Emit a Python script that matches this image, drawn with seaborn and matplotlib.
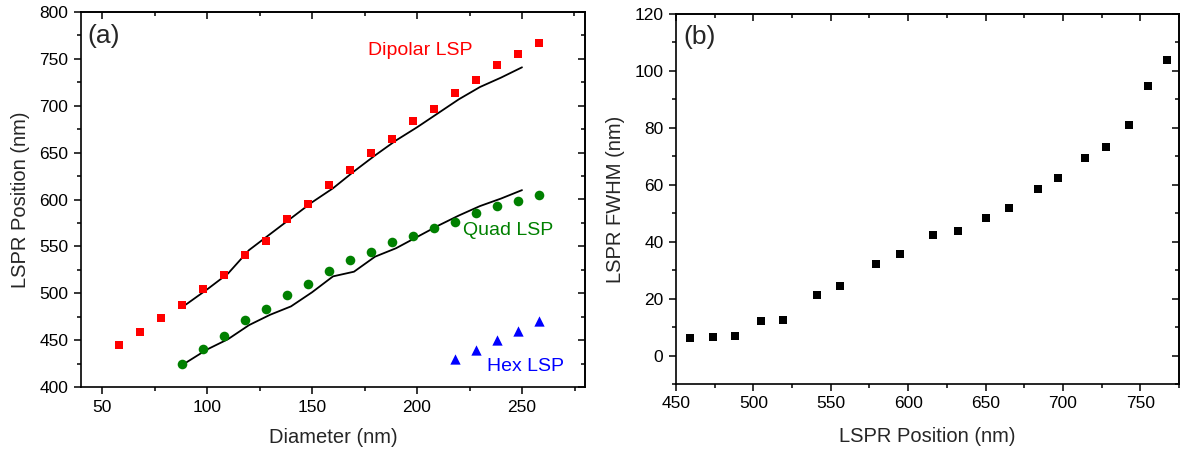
import matplotlib
matplotlib.use("Agg")
import matplotlib.pyplot as plt
import seaborn as sns
import numpy as np
import pandas as pd
from matplotlib.ticker import MultipleLocator

# ---------------- data ----------------
dip_diam = [58, 68, 78, 88, 98, 108, 118, 128, 138, 148, 158, 168, 178, 188, 198, 208, 218, 228, 238, 248, 258]
dip_pos = [445, 459, 474, 488, 505, 519, 541, 556, 579, 595, 616, 632, 650, 665, 684, 697, 714, 728, 743, 755, 767]

quad_diam = [88, 98, 108, 118, 128, 138, 148, 158, 168, 178, 188, 198, 208, 218, 228, 238, 248, 258]
quad_pos = [425, 441, 454, 471, 483, 498, 510, 524, 535, 544, 555, 561, 570, 576, 586, 593, 598, 605]

hex_diam = [218, 228, 238, 248, 258]
hex_pos = [430, 440, 450, 460, 470]

sim_diam = [90, 100, 110, 120, 130, 140, 150, 160, 170, 180, 190, 200, 210, 220, 230, 240, 250]
sim_dip = [488, 504, 521, 546, 563, 580, 597, 612, 630, 647, 663, 677, 692, 707, 720, 730, 741]
sim_quad = [426, 440, 451, 466, 477, 486, 501, 518, 523, 539, 548, 560, 572, 583, 593, 601, 610]

fwhm_pos = [459, 474, 488, 505, 519, 541, 556, 579, 595, 616, 632, 650, 665, 684, 697, 714, 728, 743, 755, 767]
fwhm_val = [6.1, 6.5, 6.9, 12.0, 12.6, 21.2, 24.4, 32.2, 35.6, 42.3, 43.9, 48.4, 51.8, 58.6, 62.4, 69.4, 73.4, 81.1, 94.8, 103.9]

# ---------------- style ----------------
sns.set_style("ticks")
plt.rcParams['font.family'] = ['Liberation Sans', 'DejaVu Sans']
plt.rcParams['axes.linewidth'] = 1.2
plt.rcParams['xtick.major.width'] = 1.1
plt.rcParams['ytick.major.width'] = 1.1
plt.rcParams['xtick.minor.width'] = 1.1
plt.rcParams['ytick.minor.width'] = 1.1
plt.rcParams['xtick.major.size'] = 5
plt.rcParams['ytick.major.size'] = 5
plt.rcParams['xtick.minor.size'] = 3
plt.rcParams['ytick.minor.size'] = 3
plt.rcParams['xtick.color'] = 'black'
plt.rcParams['ytick.color'] = 'black'
plt.rcParams['axes.edgecolor'] = 'black'

fig = plt.figure(figsize=(11.88, 4.54), dpi=100)
ax1 = fig.add_axes([81/1188, (454-387)/454, 504/1188, 375/454])
ax2 = fig.add_axes([676/1188, (454-384)/454, 503/1188, 370/454])

TICK_FS = 12.5
LABEL_FS = 14.5


def style_axes(ax, xmaj, xmin, ymaj, ymin):
    for s in ax.spines.values():
        s.set_visible(True)
        s.set_color('black')
    ax.xaxis.set_major_locator(MultipleLocator(xmaj))
    ax.xaxis.set_minor_locator(MultipleLocator(xmin))
    ax.yaxis.set_major_locator(MultipleLocator(ymaj))
    ax.yaxis.set_minor_locator(MultipleLocator(ymin))
    ax.tick_params(which='both', direction='out', top=False, right=False,
                   labelsize=TICK_FS, pad=4)
    top = ax.secondary_xaxis('top')
    top.xaxis.set_major_locator(MultipleLocator(xmaj))
    top.xaxis.set_minor_locator(MultipleLocator(xmin))
    top.tick_params(which='both', direction='in', labeltop=False)
    right = ax.secondary_yaxis('right')
    right.yaxis.set_major_locator(MultipleLocator(ymaj))
    right.yaxis.set_minor_locator(MultipleLocator(ymin))
    right.tick_params(which='both', direction='in', labelright=False)


# ---------------- panel (a) ----------------
sns.lineplot(x=sim_diam, y=sim_dip, ax=ax1, color='black', linewidth=1.3)
sns.lineplot(x=sim_diam, y=sim_quad, ax=ax1, color='black', linewidth=1.3)
sns.scatterplot(x=dip_diam, y=dip_pos, ax=ax1, marker='s', color='#FF0000',
                s=40, linewidth=0, zorder=3)
sns.scatterplot(x=quad_diam, y=quad_pos, ax=ax1, marker='o', color='#008000',
                s=48, linewidth=0, zorder=3)
sns.scatterplot(x=hex_diam, y=hex_pos, ax=ax1, marker='^', color='#0000FF',
                s=55, linewidth=0, zorder=3)

ax1.set_xlim(40, 280)
ax1.set_ylim(400, 800)
style_axes(ax1, 50, 25, 50, 25)
ax1.set_xlabel('Diameter (nm)', fontsize=LABEL_FS, labelpad=10)
ax1.set_ylabel('LSPR Position (nm)', fontsize=LABEL_FS, labelpad=7)
ax1.text(0.012, 0.935, '(a)', transform=ax1.transAxes, fontsize=19,
         va='center', ha='left')
ax1.text(176.5, 759, 'Dipolar LSP', color='#FF0000', fontsize=14,
         va='center', ha='left')
ax1.text(222, 567, 'Quad LSP', color='#008000', fontsize=14,
         va='center', ha='left')
ax1.text(233.3, 422, 'Hex LSP', color='#0000FF', fontsize=14,
         va='center', ha='left')

# ---------------- panel (b) ----------------
sns.scatterplot(x=fwhm_pos, y=fwhm_val, ax=ax2, marker='s', color='black',
                s=40, linewidth=0, zorder=3)
ax2.set_xlim(450, 775)
ax2.set_ylim(-10, 120)
style_axes(ax2, 50, 25, 20, 10)
ax2.set_xlabel('LSPR Position (nm)', fontsize=LABEL_FS, labelpad=11)
ax2.set_ylabel('LSPR FWHM (nm)', fontsize=LABEL_FS, labelpad=7)
ax2.text(0.014, 0.938, '(b)', transform=ax2.transAxes, fontsize=19,
         va='center', ha='left')

fig.savefig('out.png', dpi=100)
